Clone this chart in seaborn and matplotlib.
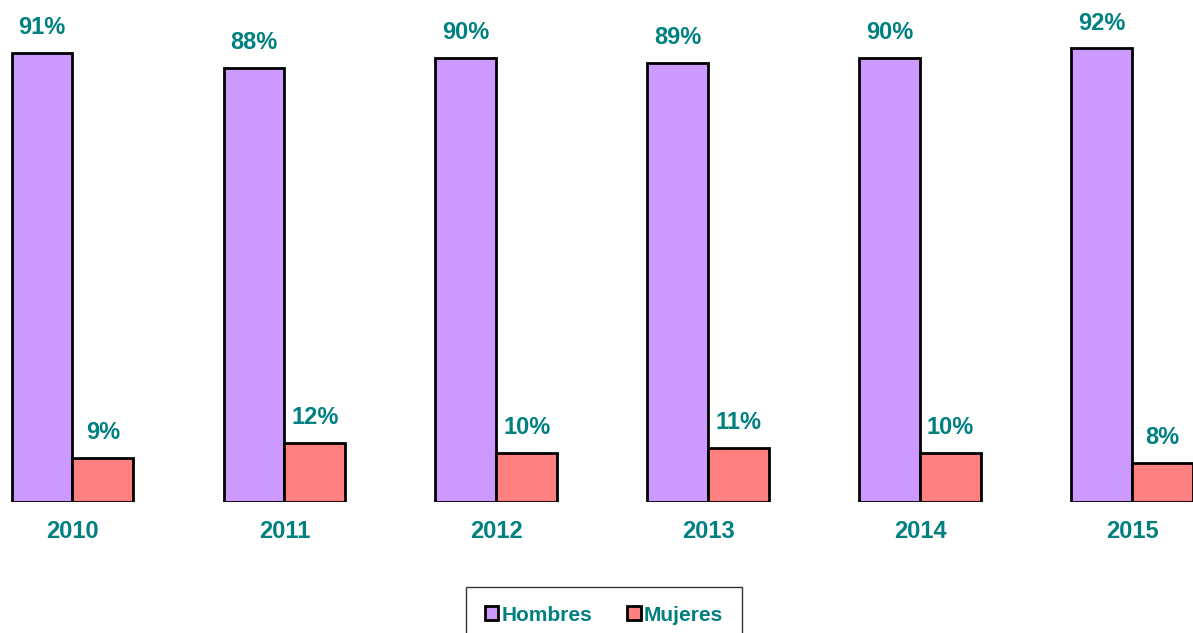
import matplotlib
matplotlib.use("Agg")
import matplotlib.pyplot as plt
import pandas as pd
import seaborn as sns

years = ["2010", "2011", "2012", "2013", "2014", "2015"]
hombres = [91, 88, 90, 89, 90, 92]
mujeres = [9, 12, 10, 11, 10, 8]
groups = ["Hombres", "Mujeres"]
colors = ["#CC99FF", "#FF8080"]
teal = "#008080"

df = pd.DataFrame({
    "year": years * 2,
    "pct": hombres + mujeres,
    "sexo": [groups[0]] * len(years) + [groups[1]] * len(years),
})

sns.set_theme(style="white")
plt.rcParams["font.family"] = ["Liberation Sans", "DejaVu Sans"]

fig = plt.figure(figsize=(11.93, 6.33), dpi=100)
ax = fig.add_axes([0, 131 / 633, 1, 493 / 633])

sns.barplot(data=df, x="year", y="pct", hue="sexo", palette=colors,
            saturation=1, width=0.574, edgecolor="black", linewidth=2.0,
            ax=ax)

for cont in ax.containers:
    ax.bar_label(cont, fmt="%d%%", padding=10, color=teal,
                 fontsize=17, fontweight="bold")

ax.set_xlim(-0.342, 5.288)
ax.set_ylim(0, 100)
ax.set_xlabel("")
ax.set_ylabel("")
ax.set_yticks([])
ax.tick_params(axis="x", length=0, pad=13, labelsize=17, labelcolor=teal)
for lbl in ax.get_xticklabels():
    lbl.set_fontweight("bold")
sns.despine(ax=ax, left=True, bottom=True)

ax.get_legend().remove()
handles, labels = ax.get_legend_handles_labels()
leg = fig.legend(handles, labels, loc="upper center",
                 bbox_to_anchor=(604 / 1193, 1 - 587 / 633), ncol=2,
                 frameon=True, fancybox=False, edgecolor="black",
                 handlelength=0.65, handleheight=0.65, handletextpad=0.15,
                 columnspacing=1.7, borderpad=0.9, borderaxespad=0,
                 prop={"size": 15, "weight": "bold"})
leg.get_frame().set_linewidth(1.0)
for t in leg.get_texts():
    t.set_color(teal)

fig.savefig("out.png", dpi=100)
